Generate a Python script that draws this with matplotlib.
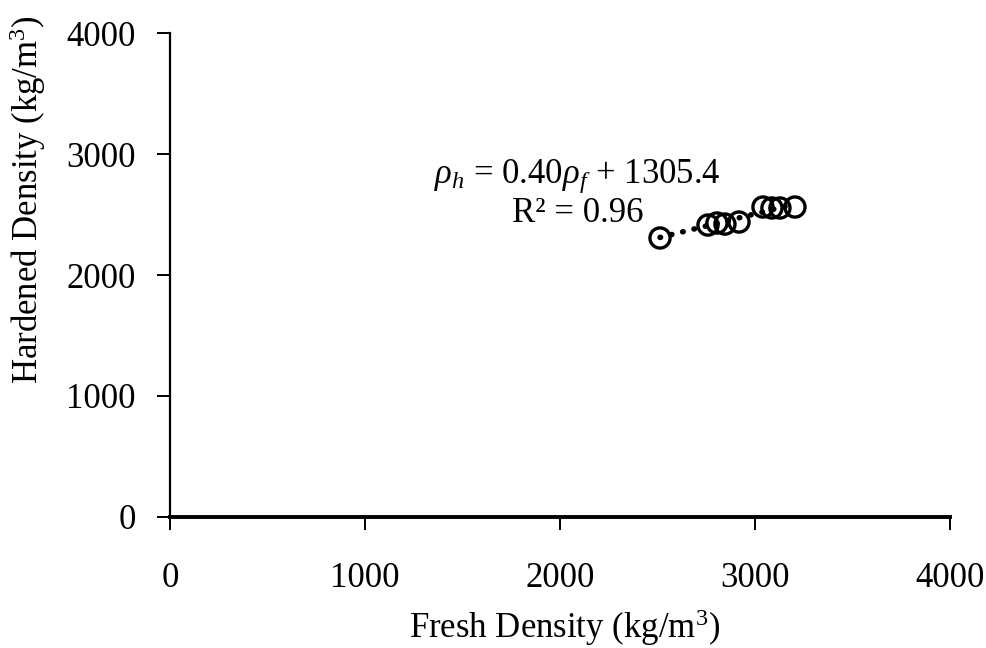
"""Fresh vs. hardened density scatter with linear trendline."""
import matplotlib.pyplot as plt
import numpy as np

INK = "#000000"

fresh = [2513, 2759, 2805, 2846, 2918, 3041, 3087, 3128, 3205]
hardened = [2306, 2413, 2430, 2421, 2438, 2562, 2554, 2554, 2562]
slope, intercept = 0.40, 1305.4
ticks = [0, 1000, 2000, 3000, 4000]

plt.rcParams["font.family"] = "Liberation Serif"
plt.rcParams["mathtext.fontset"] = "custom"
plt.rcParams["mathtext.rm"] = "Liberation Serif"
plt.rcParams["mathtext.it"] = "Liberation Serif:italic"

FS = 25


def main():
    fig = plt.figure(figsize=(9.87, 6.48), dpi=100, facecolor="white")
    ax = fig.add_axes([0.1722, 0.2022, 0.7903, 0.7468])

    xs = np.array([min(fresh), max(fresh)])
    ax.plot(xs, slope * xs + intercept, color=INK, linestyle=(0, (0.1, 2.0)),
            linewidth=4.0, dash_capstyle="round", zorder=2)
    ax.scatter(fresh, hardened, s=210, facecolors="none", edgecolors=INK,
               linewidths=2.4, zorder=3)

    ax.set_xlim(0, 4000)
    ax.set_ylim(0, 4000)
    ax.set_xticks(ticks)
    ax.set_yticks(ticks)
    for side in ("top", "right"):
        ax.spines[side].set_visible(False)
    ax.spines["left"].set_linewidth(1.6)
    ax.spines["bottom"].set_linewidth(2.8)
    ax.tick_params(axis="x", direction="out", length=9.5, width=1.4,
                   pad=23, labelsize=FS, colors=INK)
    ax.tick_params(axis="y", direction="out", length=9.5, width=1.4,
                   pad=15, labelsize=FS, colors=INK)

    ax.text(2090, 2820, r"$\rho_h$ = 0.40$\rho_f$ + 1305.4", fontsize=FS,
            ha="center", va="center", color=INK)
    ax.text(2090, 2510, "R² = 0.96", fontsize=FS, ha="center", va="center",
            color=INK)

    fig.text(565 / 987, 1 - 628 / 648, "Fresh Density (kg/m$^3$)", fontsize=FS,
             ha="center", va="center", color=INK)
    fig.text(28 / 987, 1 - 200 / 648, "Hardened Density (kg/m$^3$)", fontsize=FS,
             ha="center", va="center", rotation=90, color=INK)

    fig.savefig("out.png", dpi=100, facecolor="white")
    plt.close(fig)


if __name__ == "__main__":
    main()
